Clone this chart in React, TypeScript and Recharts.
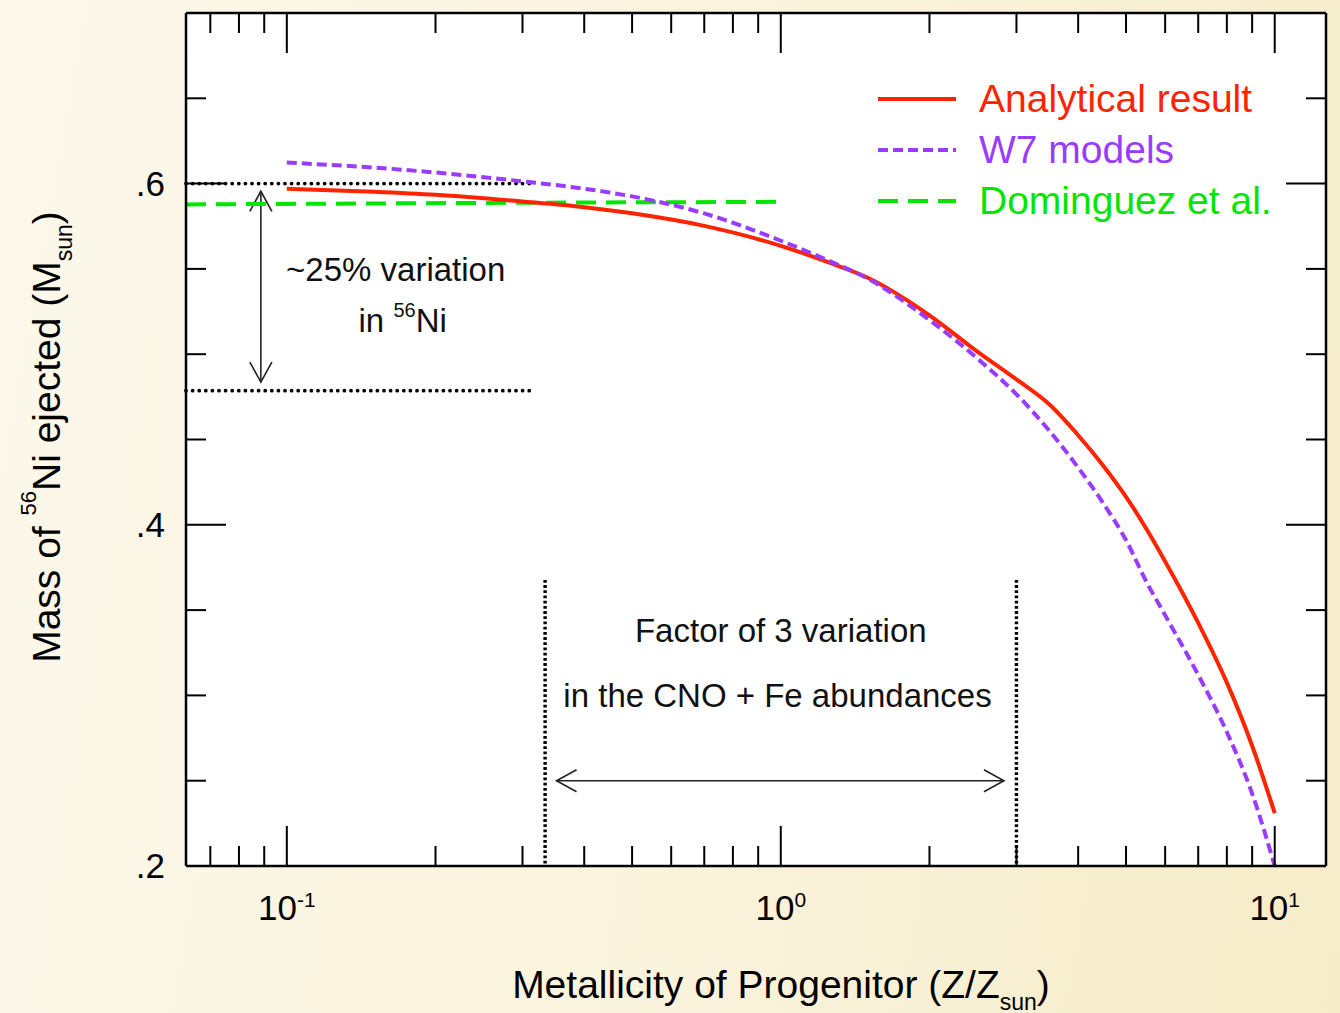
import React from "react";
import {
  ComposedChart,
  Line,
  XAxis,
  YAxis,
  ReferenceLine,
  ReferenceDot,
  Legend,
  CartesianGrid,
} from "recharts";

const FONT = "'Liberation Sans', Arial, Helvetica, sans-serif";

// ---------------- data ----------------
const metallicity = [0.1, 0.15, 0.2, 0.3, 0.4, 0.5, 0.7, 1.0, 1.25, 1.5, 2.0, 2.5, 3.0, 3.5, 4.0, 4.5, 5.0, 5.5, 6.0, 7.0, 8.0, 9.0, 10.0];
const analyticalNi = [0.597, 0.5952, 0.5934, 0.5895, 0.5862, 0.5826, 0.5752, 0.5635, 0.5538, 0.5448, 0.5228, 0.5015, 0.4852, 0.4705, 0.4525, 0.4345, 0.4164, 0.3975, 0.3785, 0.3425, 0.3075, 0.2705, 0.231];
const w7Ni = [0.6123, 0.6094, 0.6065, 0.6013, 0.597, 0.5925, 0.5825, 0.5665, 0.5548, 0.5443, 0.52, 0.4975, 0.4765, 0.455, 0.4335, 0.4125, 0.391, 0.3665, 0.347, 0.312, 0.2785, 0.2425, 0.2];
const dominguezZ = [0.0625, 0.3, 1.0];
const dominguezNi = [0.5878, 0.5888, 0.5893];

const xDomain = [0.0625, 12.7];
const yDomain = [0.2, 0.7];
const xMajorTicks = [0.1, 1, 10];
const xMajorExponents = ["-1", "0", "1"];
const xMinorTicks = [0.07, 0.08, 0.09, 0.2, 0.3, 0.4, 0.5, 0.6, 0.7, 0.8, 0.9, 2, 3, 4, 5, 6, 7, 8, 9];
const yMajorTicks = [0.2, 0.4, 0.6];
const yMajorLabels = [".2", ".4", ".6"];
const yMinorTicks = [0.25, 0.3, 0.35, 0.45, 0.5, 0.55, 0.65];

// annotations (data coordinates)
const rangeLevels = [0.6, 0.4786];
const rangeLevelEndZ = 0.31;
const variationArrow = { z: 0.0886, from: 0.5955, to: 0.4836 };
const bandZ = [1 / 3, 3];
const bandTopNi = 0.3677;
const bandArrow = { ni: 0.25, from: 0.3516, to: 2.83 };
const notes = [
  { z: 0.1661, ni: 0.5431, text: "~25% variation", sup: "", tail: "" },
  { z: 0.1716, ni: 0.5132, text: "in ", sup: "56", tail: "Ni" },
  { z: 1.0, ni: 0.3314, text: "Factor of 3 variation", sup: "", tail: "" },
  { z: 0.985, ni: 0.2933, text: "in the CNO + Fe abundances", sup: "", tail: "" },
];

const seriesNames = ["Analytical result", "W7 models", "Dominguez et al."];
const seriesColors = ["#ff2400", "#9a3cff", "#00e600"];
const seriesDash = [undefined, "10 5", "20 10"];

const analyticalData = metallicity.map((z, i) => ({ z, ni: analyticalNi[i] }));
const w7Data = metallicity.map((z, i) => ({ z, ni: w7Ni[i] }));
const dominguezData = dominguezZ.map((z, i) => ({ z, ni: dominguezNi[i] }));

const xTicks = [...xMinorTicks, ...xMajorTicks].sort((a, b) => a - b);
const yTicks = [...yMinorTicks, ...yMajorTicks].sort((a, b) => a - b);

// ---------------- ticks ----------------
const tickStroke = { stroke: "#000", strokeWidth: 2 };

function BottomTick(props: any) {
  const { x, y, payload } = props;
  const mi = xMajorTicks.indexOf(payload.value);
  const len = mi >= 0 ? 40 : 20;
  return (
    <g>
      <line x1={x} y1={y} x2={x} y2={y - len} {...tickStroke} />
      {mi >= 0 && (
        <text x={x} y={y + 54} textAnchor="middle" fontSize={35} fontFamily={FONT} fill="#000">
          10
          <tspan dy={-13} fontSize={21}>
            {xMajorExponents[mi]}
          </tspan>
        </text>
      )}
    </g>
  );
}

function TopTick(props: any) {
  const { x, y, payload } = props;
  const major = xMajorTicks.indexOf(payload.value) >= 0;
  return <line x1={x} y1={y} x2={x} y2={y + (major ? 40 : 20)} {...tickStroke} />;
}

function LeftTick(props: any) {
  const { x, y, payload } = props;
  const mi = yMajorTicks.indexOf(payload.value);
  const len = mi >= 0 ? 40 : 20;
  return (
    <g>
      <line x1={x} y1={y} x2={x + len} y2={y} {...tickStroke} />
      {mi >= 0 && (
        <text x={x - 21} y={y + 12} textAnchor="end" fontSize={35} fontFamily={FONT} fill="#000">
          {yMajorLabels[mi]}
        </text>
      )}
    </g>
  );
}

function RightTick(props: any) {
  const { x, y, payload } = props;
  const major = yMajorTicks.indexOf(payload.value) >= 0;
  return <line x1={x} y1={y} x2={x - (major ? 40 : 20)} y2={y} {...tickStroke} />;
}

// ---------------- annotation shapes ----------------
function ArrowShape(props: any) {
  const { x1, y1, x2, y2 } = props;
  const dx = x2 - x1;
  const dy = y2 - y1;
  const len = Math.hypot(dx, dy) || 1;
  const ux = dx / len;
  const uy = dy / len;
  const px = -uy;
  const py = ux;
  const L = 20;
  const W = 11;
  const head = (tx: number, ty: number, dir: number) =>
    `M${tx - dir * ux * L + px * W},${ty - dir * uy * L + py * W} L${tx},${ty} L${tx - dir * ux * L - px * W},${ty - dir * uy * L - py * W}`;
  return (
    <g>
      <line x1={x1} y1={y1} x2={x2} y2={y2} stroke="#222" strokeWidth={1.6} />
      <path d={`${head(x2, y2, 1)} ${head(x1, y1, -1)}`} fill="none" stroke="#222" strokeWidth={1.6} />
    </g>
  );
}

function noteShape(n: (typeof notes)[number]) {
  return (p: any) => (
    <text x={p.cx} y={p.cy} textAnchor="middle" fontSize={33} fontFamily={FONT} fill="#111">
      {n.text}
      {n.sup && (
        <tspan dy={-15} fontSize={20}>
          {n.sup}
        </tspan>
      )}
      {n.tail && <tspan dy={n.sup ? 15 : 0}>{n.tail}</tspan>}
    </text>
  );
}

function LegendBox() {
  return (
    <svg width={470} height={160} style={{ display: "block", overflow: "visible" }}>
      {seriesNames.map((name, i) => (
        <g key={name}>
          <line
            x1={8}
            x2={86}
            y1={29 + 51 * i}
            y2={29 + 51 * i}
            stroke={seriesColors[i]}
            strokeWidth={4}
            strokeDasharray={seriesDash[i]}
          />
          <text x={109} y={42 + 51 * i} fill={seriesColors[i]} fontSize={39} fontFamily={FONT}>
            {name}
          </text>
        </g>
      ))}
    </svg>
  );
}

export default function App() {
  return (
    <div
      style={{
        position: "absolute",
        left: 0,
        top: 0,
        width: 1340,
        height: 1013,
        overflow: "hidden",
        background: "linear-gradient(100deg, #fcf8eb 0%, #faf3dc 55%, #f6ecc8 100%)",
        fontFamily: FONT,
      }}
    >
      <ComposedChart
        width={1340}
        height={1013}
        margin={{ top: 12, right: 13, bottom: 87, left: 126 }}
      >
        <CartesianGrid fill="#ffffff" horizontal={false} vertical={false} stroke="none" />
        <XAxis
          dataKey="z"
          type="number"
          scale="log"
          domain={xDomain}
          allowDataOverflow
          ticks={xTicks}
          interval={0}
          height={60}
          tickSize={0}
          tickMargin={0}
          tickLine={false}
          tick={<BottomTick />}
          axisLine={{ stroke: "#000", strokeWidth: 2.5 }}
          label={() => (
            <text x={781} y={998} textAnchor="middle" fontSize={39} fontFamily={FONT} fill="#000">
              Metallicity of Progenitor (Z/Z
              <tspan dy={12} fontSize={23}>
                sun
              </tspan>
              <tspan dy={-12}>)</tspan>
            </text>
          )}
        />
        <XAxis
          xAxisId="top"
          orientation="top"
          dataKey="z"
          type="number"
          scale="log"
          domain={xDomain}
          allowDataOverflow
          ticks={xTicks}
          interval={0}
          height={1}
          tickSize={0}
          tickMargin={0}
          tickLine={false}
          tick={<TopTick />}
          axisLine={{ stroke: "#000", strokeWidth: 2.5 }}
        />
        <YAxis
          type="number"
          domain={yDomain}
          allowDataOverflow
          ticks={yTicks}
          interval={0}
          width={60}
          tickSize={0}
          tickMargin={0}
          tickLine={false}
          tick={<LeftTick />}
          axisLine={{ stroke: "#000", strokeWidth: 2.5 }}
          label={() => (
            <text
              x={60}
              y={437}
              transform="rotate(-90 60 437)"
              textAnchor="middle"
              fontSize={39}
              fontFamily={FONT}
              fill="#000"
            >
              Mass of{" "}
              <tspan dy={-24} fontSize={22}>
                56
              </tspan>
              <tspan dy={24}>Ni ejected (M</tspan>
              <tspan dy={12} fontSize={23}>
                sun
              </tspan>
              <tspan dy={-12}>)</tspan>
            </text>
          )}
        />
        <YAxis
          yAxisId="right"
          orientation="right"
          type="number"
          domain={yDomain}
          allowDataOverflow
          ticks={yTicks}
          interval={0}
          width={1}
          tickSize={0}
          tickMargin={0}
          tickLine={false}
          tick={<RightTick />}
          axisLine={{ stroke: "#000", strokeWidth: 2.5 }}
        />

        {rangeLevels.map((lv) => (
          <ReferenceLine
            key={`lv${lv}`}
            segment={[
              { x: xDomain[0], y: lv },
              { x: rangeLevelEndZ, y: lv },
            ]}
            stroke="#000"
            strokeWidth={3.8}
            strokeDasharray="0 6.6"
            strokeLinecap="round"
            ifOverflow="visible"
          />
        ))}
        {bandZ.map((bz) => (
          <ReferenceLine
            key={`bz${bz}`}
            segment={[
              { x: bz, y: bandTopNi },
              { x: bz, y: yDomain[0] },
            ]}
            stroke="#000"
            strokeWidth={3.4}
            strokeDasharray="2.8 2.4"
            ifOverflow="visible"
          />
        ))}
        <ReferenceLine
          segment={[
            { x: variationArrow.z, y: variationArrow.from },
            { x: variationArrow.z, y: variationArrow.to },
          ]}
          shape={ArrowShape}
          ifOverflow="visible"
        />
        <ReferenceLine
          segment={[
            { x: bandArrow.from, y: bandArrow.ni },
            { x: bandArrow.to, y: bandArrow.ni },
          ]}
          shape={ArrowShape}
          ifOverflow="visible"
        />
        {notes.map((n, i) => (
          <ReferenceDot key={`note${i}`} x={n.z} y={n.ni} r={0} shape={noteShape(n)} ifOverflow="visible" />
        ))}

        <Line
          data={dominguezData}
          dataKey="ni"
          name={seriesNames[2]}
          type="linear"
          stroke={seriesColors[2]}
          strokeWidth={4}
          strokeDasharray={seriesDash[2]}
          dot={false}
          activeDot={false}
          isAnimationActive={false}
        />
        <Line
          data={analyticalData}
          dataKey="ni"
          name={seriesNames[0]}
          type="monotone"
          stroke={seriesColors[0]}
          strokeWidth={4}
          dot={false}
          activeDot={false}
          isAnimationActive={false}
        />
        <Line
          data={w7Data}
          dataKey="ni"
          name={seriesNames[1]}
          type="monotone"
          stroke={seriesColors[1]}
          strokeWidth={4}
          strokeDasharray={seriesDash[1]}
          dot={false}
          activeDot={false}
          isAnimationActive={false}
        />
        <Legend
          content={<LegendBox />}
          layout="vertical"
          align="center"
          verticalAlign="middle"
          wrapperStyle={{ position: "absolute", left: 870, top: 70, width: 470, height: 160 }}
        />
      </ComposedChart>
    </div>
  );
}
